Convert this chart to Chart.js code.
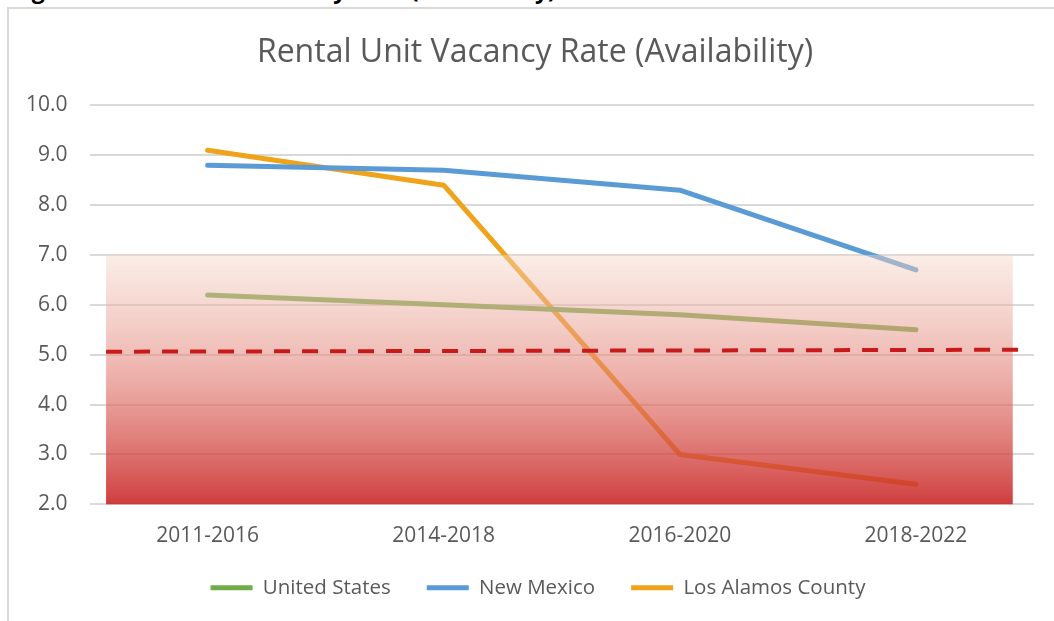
<!DOCTYPE html>
<html>
<head>
<meta charset="utf-8">
<script src="https://cdn.jsdelivr.net/npm/chart.js@4"></script>
<style>
  html, body { margin: 0; padding: 0; background: #fff; overflow: hidden; }
  #caption {
    position: absolute; left: 12px; top: -27px;
    font: bold 23px "Open Sans", sans-serif; color: #000; white-space: nowrap;
  }
  #frame {
    position: absolute; left: 7px; top: 7px; width: 1100px; height: 700px;
    border-left: 2px solid #D9D9D9; border-top: 2px solid #D9D9D9;
  }
  #wrap { position: absolute; left: 0; top: 0; width: 1054px; height: 621px; }
</style>
</head>
<body>
<div id="caption">Figure 5: Rental Unit Vacancy Rate (Availability)</div>
<div id="frame"></div>
<div id="wrap"><canvas id="myChart"></canvas></div>
<script>
// values
const periods = ['2011-2016', '2014-2018', '2016-2020', '2018-2022'];
const unitedStates = [6.2, 6.0, 5.8, 5.5];
const newMexico = [8.8, 8.7, 8.3, 6.7];
const losAlamos = [9.1, 8.4, 3.0, 2.4];
// dashed healthy-vacancy reference line (start, end)
const healthyLine = [5.06, 5.10];
// shaded "low availability" band
const lowBand = [2.0, 7.0];

const textColor = '#595959';
const tickSize = 21;

// gradient band laid over the lines, then the dashed line on top
const bandPlugin = {
  id: 'band',
  afterLayout(chart) {
    // the original frame is wider than the window, so title/legend sit right of centre
    chart.titleBlock.left += 16;
    chart.titleBlock.right += 16;
    chart.legend.left += 19;
    chart.legend.right += 19;
    chart.legend.top -= 7;
    chart.legend.bottom -= 7;
  },
  afterDatasetsDraw(chart) {
    const { ctx, scales } = chart;
    const x = scales.x, y = scales.y;
    const step = x.getPixelForValue(1) - x.getPixelForValue(0);
    const left = x.getPixelForValue(0) - step * 0.43;
    const right = x.getPixelForValue(periods.length - 1) + step * 0.41;
    const top = y.getPixelForValue(lowBand[1]);
    const bottom = y.getPixelForValue(lowBand[0]);

    ctx.save();
    const g = ctx.createLinearGradient(0, top, 0, bottom);
    g.addColorStop(0, 'rgba(245,215,200,0.45)');
    g.addColorStop(0.5, 'rgba(225,120,110,0.6)');
    g.addColorStop(1, 'rgba(200,35,35,0.88)');
    ctx.fillStyle = g;
    ctx.fillRect(left, top, right - left, bottom - top);

    ctx.strokeStyle = '#C81A1A';
    ctx.lineWidth = 4;
    ctx.setLineDash([16, 12]);
    ctx.beginPath();
    ctx.moveTo(left, y.getPixelForValue(healthyLine[0]));
    ctx.lineTo(x.getPixelForValue(periods.length - 1) + step * 0.44, y.getPixelForValue(healthyLine[1]));
    ctx.stroke();
    ctx.restore();
  }
};

const ctx = document.getElementById('myChart').getContext('2d');
const config = {
  type: 'line',
  data: {
    labels: periods,
    datasets: [{
      label: 'United States',
      data: unitedStates,
      borderColor: '#70AD47',
      backgroundColor: '#70AD47',
      borderWidth: 5,
      borderCapStyle: 'round'
    }, {
      label: 'New Mexico',
      data: newMexico,
      borderColor: '#5B9BD5',
      backgroundColor: '#5B9BD5',
      borderWidth: 5,
      borderCapStyle: 'round'
    }, {
      label: 'Los Alamos County',
      data: losAlamos,
      borderColor: '#EFA31A',
      backgroundColor: '#EFA31A',
      borderWidth: 5,
      borderCapStyle: 'round'
    }]
  },
  options: {
    responsive: true,
    maintainAspectRatio: false,
    animation: false,
    layout: { padding: { left: 4, right: 20, top: 34, bottom: 6 } },
    elements: {
      line: { borderJoinStyle: 'round', tension: 0 },
      point: { radius: 0, hoverRadius: 0 }
    },
    plugins: {
      title: {
        display: true,
        text: 'Rental Unit Vacancy Rate (Availability)',
        color: textColor,
        font: { family: 'Open Sans', size: 32, weight: 'normal' },
        padding: { top: 0, bottom: 33 }
      },
      legend: {
        position: 'bottom',
        labels: {
          color: textColor,
          font: { family: 'Open Sans', size: 20.5 },
          usePointStyle: true,
          pointStyle: 'line',
          pointStyleWidth: 42,
          padding: 36
        }
      },
      tooltip: { enabled: false }
    },
    scales: {
      x: {
        offset: true,
        grid: { display: false, drawTicks: false },
        border: { display: false },
        ticks: { color: textColor, font: { family: 'Open Sans', size: tickSize }, padding: 19 },
        afterFit(scale) { scale.height = scale.options.ticks.padding + tickSize * 1.2; }
      },
      y: {
        min: 2,
        max: 10,
        grid: { color: '#D9D9D9', lineWidth: 2, drawTicks: false },
        border: { display: false },
        ticks: {
          stepSize: 1,
          color: textColor,
          font: { family: 'Open Sans', size: tickSize },
          padding: 22,
          callback: v => v.toFixed(1)
        }
      }
    }
  },
  plugins: [bandPlugin]
};

new Chart(ctx, config);
</script>
</body>
</html>
